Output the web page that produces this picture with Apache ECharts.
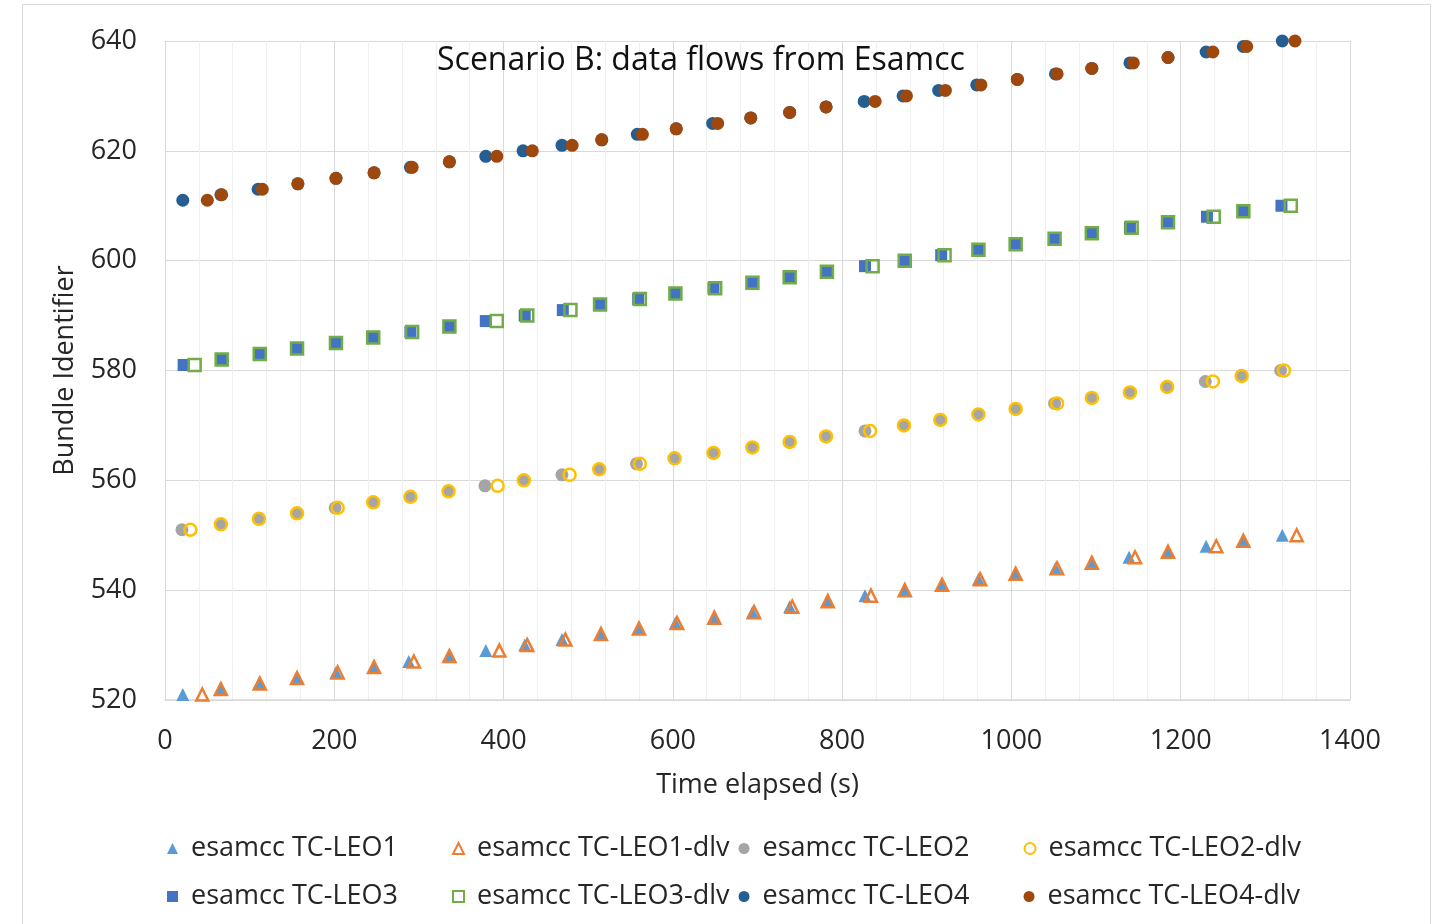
<!DOCTYPE html>
<html>
<head>
<meta charset="utf-8">
<script src="https://cdn.jsdelivr.net/npm/echarts@6/dist/echarts.min.js"></script>
<style>
  html, body { margin: 0; padding: 0; background: #fff; }
  #chart { width: 1446px; height: 924px; }
</style>
</head>
<body>
<div id="chart"></div>
<script>
// bundle ids per link
const leo1Ids = [521, 522, 523, 524, 525, 526, 527, 528, 529, 530, 531, 532, 533, 534, 535, 536, 537, 538, 539, 540, 541, 542, 543, 544, 545, 546, 547, 548, 549, 550]
const leo2Ids = [551, 552, 553, 554, 555, 556, 557, 558, 559, 560, 561, 562, 563, 564, 565, 566, 567, 568, 569, 570, 571, 572, 573, 574, 575, 576, 577, 578, 579, 580]
const leo3Ids = [581, 582, 583, 584, 585, 586, 587, 588, 589, 590, 591, 592, 593, 594, 595, 596, 597, 598, 599, 600, 601, 602, 603, 604, 605, 606, 607, 608, 609, 610]
const leo4Ids = [611, 612, 613, 614, 615, 616, 617, 618, 619, 620, 621, 622, 623, 624, 625, 626, 627, 628, 629, 630, 631, 632, 633, 634, 635, 636, 637, 638, 639, 640]

// time elapsed (s), sent and delivered
const leo1Time = [21, 66, 111, 156, 202, 247, 288, 336, 379, 425, 469, 515, 560, 603, 649, 694, 738, 783, 827, 874, 918, 961, 1005, 1052, 1095, 1139, 1185, 1230, 1274, 1320]
const leo1DlvTime = [44, 66, 112, 156, 204, 247, 294, 336, 395, 428, 473, 515, 560, 605, 649, 696, 741, 783, 834, 874, 918, 963, 1005, 1054, 1095, 1146, 1185, 1242, 1274, 1337]
const leo2Time = [20, 66, 111, 156, 201, 246, 290, 335, 378, 424, 469, 513, 557, 602, 648, 694, 738, 781, 827, 873, 916, 961, 1005, 1051, 1095, 1140, 1184, 1229, 1272, 1318]
const leo2DlvTime = [30, 66, 111, 156, 204, 246, 290, 335, 393, 424, 478, 513, 561, 602, 648, 694, 738, 781, 833, 873, 916, 961, 1005, 1054, 1095, 1140, 1184, 1238, 1272, 1322]
const leo3Time = [22, 67, 111, 156, 202, 246, 290, 336, 379, 425, 470, 514, 559, 603, 648, 694, 738, 782, 827, 873, 917, 961, 1005, 1051, 1095, 1140, 1185, 1231, 1274, 1319]
const leo3DlvTime = [35, 67, 112, 156, 202, 246, 292, 336, 392, 428, 479, 514, 561, 603, 650, 694, 738, 782, 836, 874, 921, 961, 1005, 1051, 1095, 1142, 1185, 1239, 1274, 1330]
const leo4Time = [21, 66, 110, 157, 202, 247, 290, 336, 379, 423, 469, 516, 558, 604, 647, 692, 738, 781, 826, 872, 914, 959, 1007, 1052, 1095, 1140, 1185, 1230, 1274, 1320]
const leo4DlvTime = [50, 67, 115, 157, 202, 247, 292, 336, 392, 434, 481, 516, 564, 604, 653, 692, 738, 781, 839, 876, 922, 964, 1007, 1054, 1095, 1144, 1185, 1238, 1278, 1335]

const xTicks = [0, 200, 400, 600, 800, 1000, 1200, 1400]
const yTicks = [520, 540, 560, 580, 600, 620, 640]

const font = '"Open Sans", "Noto Sans", sans-serif'
const textColor = '#262626'

function pairs(xs, ys) {
    return xs.map((x, i) => [x, ys[i]])
}

function filled(name, symbol, size, color, xs, ys) {
    return {
        name, type: 'scatter', symbol, symbolSize: size,
        itemStyle: { color, opacity: 1 },
        data: pairs(xs, ys)
    }
}

// excel style "no fill" markers: the sent marker shows through
function hollow(name, symbol, size, color, xs, ys) {
    return {
        name, type: 'scatter', symbol, symbolSize: size,
        itemStyle: { color: 'rgba(255,255,255,0)', borderColor: color, borderWidth: 2.5, opacity: 1 },
        data: pairs(xs, ys)
    }
}

const series = [
    filled('esamcc TC-LEO1', 'triangle', 13, '#5B9BD5', leo1Time, leo1Ids),
    hollow('esamcc TC-LEO1-dlv', 'triangle', 12, '#ED7D31', leo1DlvTime, leo1Ids),
    filled('esamcc TC-LEO2', 'circle', 13, '#A5A5A5', leo2Time, leo2Ids),
    hollow('esamcc TC-LEO2-dlv', 'circle', 12, '#FFC000', leo2DlvTime, leo2Ids),
    filled('esamcc TC-LEO3', 'rect', 12, '#4472C4', leo3Time, leo3Ids),
    hollow('esamcc TC-LEO3-dlv', 'rect', 12, '#70AD47', leo3DlvTime, leo3Ids),
    filled('esamcc TC-LEO4', 'circle', 13, '#255E91', leo4Time, leo4Ids),
    filled('esamcc TC-LEO4-dlv', 'circle', 13, '#9E480E', leo4DlvTime, leo4Ids)
]

const chart = echarts.init(document.getElementById('chart'))
chart.setOption({
    animation: false,
    backgroundColor: '#fff',
    graphic: [{
        type: 'rect', silent: true, z: -10,
        shape: { x: 22.5, y: 4.5, width: 1408, height: 940 },
        style: { fill: 'none', stroke: '#d9d9d9', lineWidth: 1 }
    }],
    title: {
        text: 'Scenario B: data flows from Esamcc',
        left: 432, top: 40,
        textStyle: { fontFamily: font, fontSize: 32, fontWeight: 'normal', color: '#111' }
    },
    grid: { left: 165, right: 96, top: 41, bottom: 224 },
    xAxis: {
        type: 'value', min: xTicks[0], max: xTicks[xTicks.length - 1], interval: 200,
        name: 'Time elapsed (s)', nameLocation: 'middle', nameGap: 72,
        nameTextStyle: { fontFamily: font, fontSize: 27, color: textColor },
        axisLine: { show: true, lineStyle: { color: '#d9d9d9', width: 1.5 } },
        axisTick: { show: false },
        axisLabel: { fontFamily: font, fontSize: 27, color: textColor, margin: 28, formatter: v => String(v) },
        splitLine: { show: true, lineStyle: { color: '#d9d9d9', width: 1 } },
        minorTick: { show: false, splitNumber: 5 },
        minorSplitLine: { show: true, lineStyle: { color: '#efefef', width: 1 } }
    },
    yAxis: {
        type: 'value', min: yTicks[0], max: yTicks[yTicks.length - 1], interval: 20,
        name: 'Bundle Identifier', nameLocation: 'middle', nameGap: 86, nameRotate: 90,
        nameTextStyle: { fontFamily: font, fontSize: 27, color: textColor },
        axisLine: { show: false },
        axisTick: { show: false },
        axisLabel: { fontFamily: font, fontSize: 27, color: textColor, margin: 28 },
        splitLine: { show: true, lineStyle: { color: '#d9d9d9', width: 1 } }
    },
    legend: {
        left: 162, top: 824, width: 1180,
        itemWidth: 11, itemHeight: 11, itemGap: 9,
        textStyle: { fontFamily: font, fontSize: 27, color: textColor, width: 252, lineHeight: 39, padding: [0, 0, 0, 8] },
        data: series.map(s => s.name)
    },
    series
})
</script>
</body>
</html>
